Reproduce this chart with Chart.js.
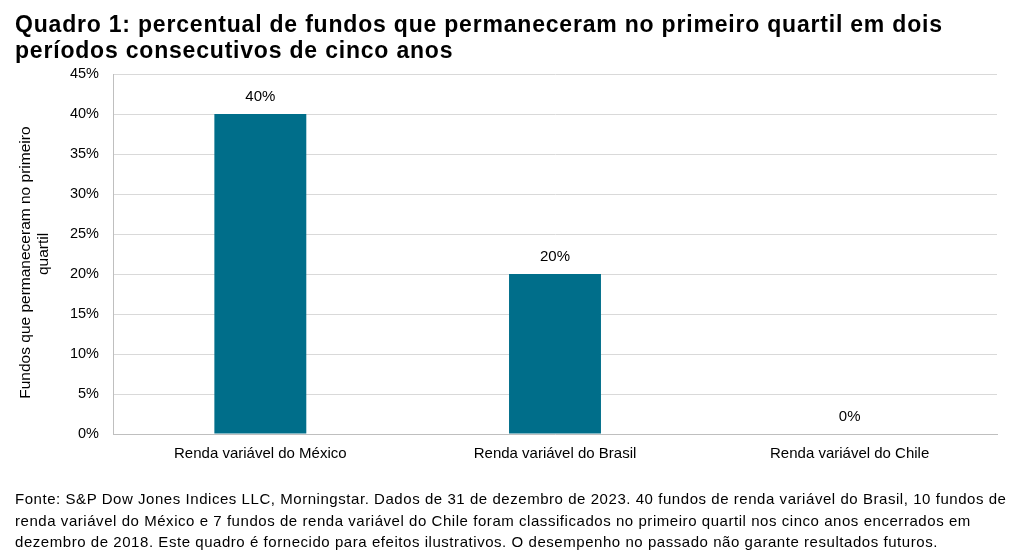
<!DOCTYPE html>
<html><head><meta charset="utf-8">
<script src="https://cdn.jsdelivr.net/npm/chart.js@4.4.1/dist/chart.umd.min.js"></script>
<style>
html,body{margin:0;padding:0;background:#fff;width:1017px;height:558px;overflow:hidden;font-family:"Liberation Sans",Arial,sans-serif;}
#title{position:absolute;left:15px;top:11px;font-weight:bold;font-size:23px;line-height:26px;letter-spacing:0.8px;color:#000;white-space:nowrap;}
#footer{position:absolute;left:15px;top:488px;font-size:15px;line-height:21.5px;letter-spacing:0.55px;color:#000;white-space:nowrap;}
#wrap{position:absolute;left:0;top:0;width:1017px;height:558px;}
</style></head><body>
<div id="wrap"><canvas id="c" width="1017" height="558"></canvas></div>
<div id="title">Quadro 1: percentual de fundos que permaneceram no primeiro quartil em dois<br>períodos consecutivos de cinco anos</div>
<div id="footer">Fonte: S&amp;P Dow Jones Indices LLC, Morningstar. Dados de 31 de dezembro de 2023. 40 fundos de renda variável do Brasil, 10 fundos de<br>renda variável do México e 7 fundos de renda variável do Chile foram classificados no primeiro quartil nos cinco anos encerrados em<br>dezembro de 2018. Este quadro é fornecido para efeitos ilustrativos. O desempenho no passado não garante resultados futuros.</div>
<script>
const categories = ["Renda variável do México", "Renda variável do Brasil", "Renda variável do Chile"];
const values = [40, 20, 0];
const yTicks = [0, 5, 10, 15, 20, 25, 30, 35, 40, 45];
const yTitle = ["Fundos que permaneceram no primeiro    ", "quartil"];

const FONT = "'Liberation Sans', Arial, sans-serif";
const labelPlugin = {
  id: 'valueLabels',
  afterDatasetsDraw(chart) {
    const ctx = chart.ctx;
    const meta = chart.getDatasetMeta(0);
    ctx.save();
    ctx.font = "15px " + FONT;
    ctx.fillStyle = "#000";
    ctx.textAlign = "center";
    ctx.textBaseline = "middle";
    meta.data.forEach((bar, i) => {
      ctx.fillText(values[i] + "%", bar.x, bar.y - 17);
    });
    ctx.restore();
  }
};

new Chart(document.getElementById('c'), {
  type: 'bar',
  data: {
    labels: categories,
    datasets: [{
      data: values,
      backgroundColor: '#006E8A',
      categoryPercentage: 1,
      barPercentage: 0.312
    }]
  },
  options: {
    responsive: false,
    animation: false,
    layout: { padding: { left: 0, top: 74, right: 20, bottom: 94 } },
    plugins: { legend: { display: false }, tooltip: { enabled: false } },
    scales: {
      x: {
        grid: { display: false, drawTicks: false },
        border: { display: true, color: '#BFBFBF', width: 1 },
        ticks: { color: '#000', font: { family: FONT, size: 15 }, padding: 11, maxRotation: 0 },
        afterFit(s) { s.height = 30; }
      },
      y: {
        min: 0, max: 45,
        afterBuildTicks(s) { s.ticks = yTicks.map(v => ({ value: v })); },
        grid: { color: '#D9D9D9', lineWidth: 1, drawTicks: false },
        border: { display: true, color: '#BFBFBF', width: 1 },
        ticks: { color: '#000', font: { family: FONT, size: 14.5 }, padding: 14, callback: v => v + '%' },
        title: { display: true, text: yTitle, color: '#000', font: { family: FONT, size: 15.5, lineHeight: 1.15 }, padding: { top: 17, bottom: 0 } },
        afterFit(s) { s.width = 113; }
      }
    }
  },
  plugins: [labelPlugin]
});
</script>
</body></html>
